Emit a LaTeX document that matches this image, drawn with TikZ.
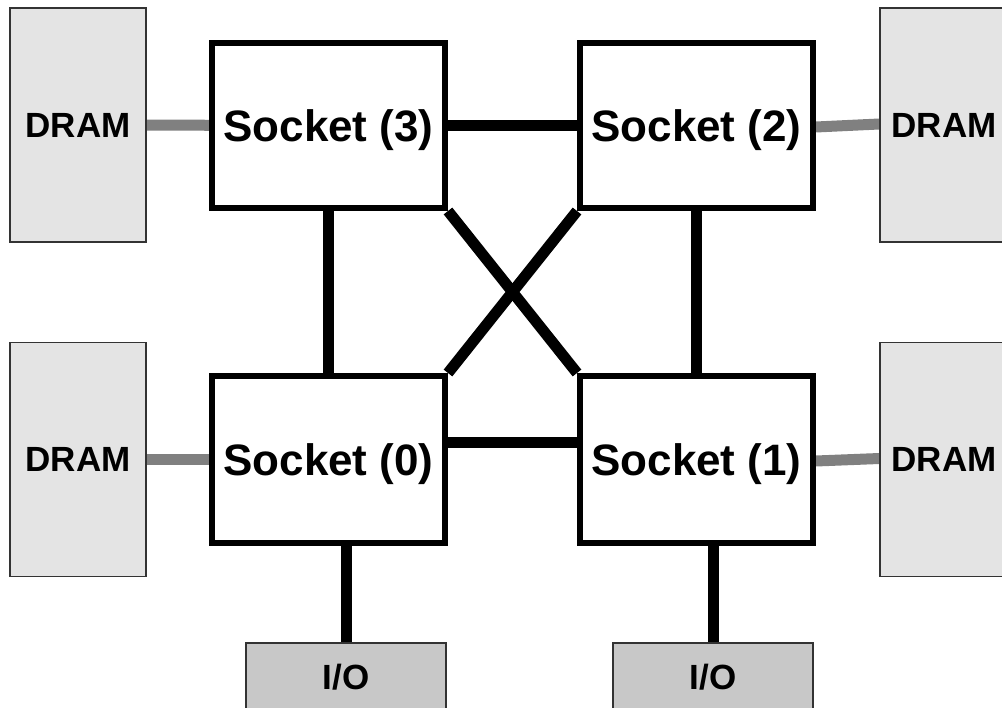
\documentclass[tikz,border=0pt]{standalone}
\usepackage{fontspec}
\setmainfont{Liberation Sans}
\usetikzlibrary{backgrounds}
\definecolor{dramfill}{HTML}{E4E4E4}
\definecolor{iofill}{HTML}{C8C8C8}
\definecolor{edgegray}{HTML}{808080}
\definecolor{boxline}{HTML}{333333}
\begin{document}
\begin{tikzpicture}[x=1pt,y=-1pt,
  socket/.style={draw=black, line width=6pt, fill=white, minimum width=233pt,
    minimum height=165pt, inner sep=0pt, text depth=0pt,
    font=\fontsize{44}{44}\selectfont\bfseries},
  dram/.style={draw=boxline, line width=1.5pt, fill=dramfill, minimum height=234pt,
    inner sep=0pt, font=\fontsize{35}{35}\selectfont\bfseries},
  iobox/.style={draw=boxline, line width=1.5pt, fill=iofill, minimum width=200pt,
    minimum height=68pt, inner sep=0pt, text depth=0pt,
    font=\fontsize{35}{35}\selectfont\bfseries},
  link/.style={line width=11pt, draw=black},
  memlink/.style={line width=11pt, draw=edgegray}]
\useasboundingbox (0,0) rectangle (1002,708);
\node[socket] (s3) at (328.5,125.5) {Socket (3)};
\node[socket] (s2) at (696.5,125.5) {Socket (2)};
\node[socket, minimum height=167pt] (s0) at (328.5,459.5) {Socket (0)};
\node[socket, minimum height=167pt] (s1) at (696.5,459.5) {Socket (1)};
\node[dram, minimum width=136pt] (d3) at (78,125) {DRAM};
\node[dram, minimum width=136pt] (d0) at (78,459.5) {DRAM};
\node[dram, minimum width=128pt] (d2) at (944,125) {DRAM};
\node[dram, minimum width=128pt] (d1) at (944,459.5) {DRAM};
\node[iobox] (io0) at (346,677) {I/O};
\node[iobox] (io1) at (713,677) {I/O};
\begin{scope}[on background layer]
  \draw[memlink] (d3) -- (s3);
  \draw[memlink] (d0) -- (s0);
  \draw[memlink] ([yshift=-1.5pt]s2.east) -- ([yshift=1pt]d2.west);
  \draw[memlink] ([yshift=-1.5pt]s1.east) -- ([yshift=1pt]d1.west);
  \draw[link] (s3) -- (s2);
  \draw[link] (s3) -- (s0);
  \draw[link] (s2) -- (s1);
  \draw[link] ([yshift=17pt]s0.east) -- ([yshift=17pt]s1.west);
  \draw[link] (s3.south east) -- (s1.north west);
  \draw[link] (s2.south west) -- (s0.north east);
  \draw[link] (io0.north) -- (io0.north |- s0.south);
  \draw[link] (io1.north) -- (io1.north |- s1.south);
\end{scope}
\end{tikzpicture}
\end{document}
